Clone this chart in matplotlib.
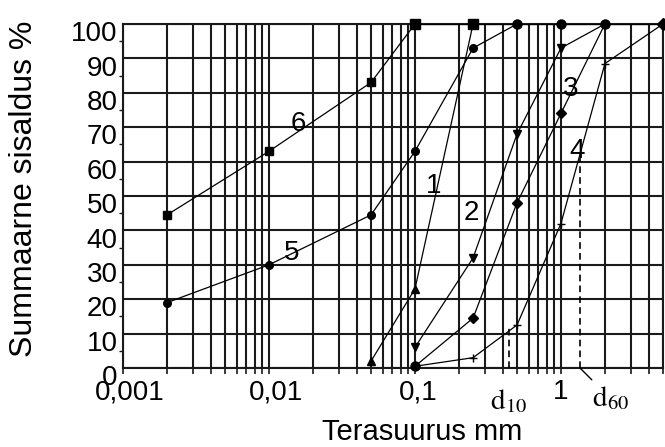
import matplotlib
matplotlib.use("Agg")
import matplotlib.pyplot as plt
import matplotlib.ticker as mticker
import matplotlib.transforms as mtrans
import numpy as np

plt.rcParams['font.family'] = ['Liberation Sans', 'DejaVu Sans']
plt.rcParams['mathtext.fontset'] = 'stix'

# grading curves (particle size mm, % passing)
x1 = [0.05, 0.1, 0.25]
y1 = [2, 23, 100]
x2 = [0.1, 0.25, 0.5, 1, 2]
y2 = [6, 32, 68, 93, 100]
x3 = [0.1, 0.25, 0.5, 1, 2]
y3 = [0.5, 14.5, 48, 74, 100]
x4 = [0.1, 0.25, 0.5, 1, 2, 5]
y4 = [0.5, 3, 12.5, 42, 88.5, 100]
x5 = [0.002, 0.01, 0.05, 0.1, 0.25, 0.5]
y5 = [19, 30, 44.5, 63, 93, 100]
x6 = [0.002, 0.01, 0.05, 0.1]
y6 = [44.5, 63, 83, 100]

# markers along the 100 % line
x_top = [0.1, 0.25, 0.5, 1, 2, 5]
m_top = ['s', 's', 'o', 'o', 'o', 'D']

# curve number labels (x, y, text)
lab_x = [0.135, 0.245, 1.17, 1.29, 0.0142, 0.0158]
lab_y = [53, 45, 81, 63, 33.5, 71]
lab_t = ['1', '2', '3', '4', '5', '6']

d10, d10_y = 0.44, 12
d60, d60_y = 1.35, 61

xticks = [0.001, 0.01, 0.1, 1]
xlabels = ['0,001', '0,01', '0,1', '1']
yticks = list(range(0, 101, 10))

W, H = 665, 447
fig = plt.figure(figsize=(W / 100, H / 100), dpi=100)
ax = fig.add_axes([123 / W, 1 - 368 / H, (663 - 123) / W, (368 - 24) / H])

ax.set_xscale('log')
ax.set_xlim(0.001, 5)
ax.set_ylim(0, 100)

gc = '#1a1a1a'
ax.xaxis.set_major_locator(mticker.FixedLocator(xticks))
ax.xaxis.set_minor_locator(mticker.LogLocator(base=10, subs=range(2, 10), numticks=20))
ax.xaxis.set_minor_formatter(mticker.NullFormatter())
ax.set_xticklabels(xlabels)
ax.set_yticks(yticks)
ax.yaxis.set_minor_locator(mticker.MultipleLocator(5))
ax.grid(True, which='major', axis='both', color=gc, lw=1.5)
ax.grid(True, which='minor', axis='x', color=gc, lw=1.5)
ax.set_axisbelow(True)
for s in ax.spines.values():
    s.set_color(gc)
    s.set_linewidth(1.5)

ax.tick_params(axis='x', which='both', direction='out', length=4, width=1.2,
               color=gc, labelsize=20, pad=4)
ax.tick_params(axis='y', which='major', length=0, labelsize=20, pad=4)
ax.tick_params(axis='y', which='minor', length=3, width=1, color=gc)
for lbl in ax.get_yticklabels():
    lbl.set_va('top')
    lbl.set_transform(lbl.get_transform() + mtrans.ScaledTranslation(0, 2 / 72, fig.dpi_scale_trans))
for lbl, dx in zip(ax.get_xticklabels(), [7, 7, 3, 0]):
    lbl.set_transform(lbl.get_transform() + mtrans.ScaledTranslation(dx / 100, 0, fig.dpi_scale_trans))

lk = dict(color='black', lw=0.9, ms=5.5, mfc='black', mec='black', zorder=3)
ax.plot(x1, y1, marker='^', markevery=[0, 1], **lk)
ax.plot(x2, y2, marker='v', markevery=[0, 1, 2, 3], **lk)
ax.plot(x3, y3, marker='D', markevery=[1, 2, 3], **dict(lk, ms=5))
ax.plot(x4, y4, marker='+', markevery=[1, 2, 3, 4], **lk)
ax.plot(x5, y5, marker='o', markevery=[0, 1, 2, 3, 4], **lk)
ax.plot(x6, y6, marker='s', markevery=[0, 1, 2], **lk)
ax.plot(x_top, [100] * len(x_top), color='black', lw=0.9, zorder=3)
for xt, mt in zip(x_top, m_top):
    ax.plot(xt, 100, marker=mt, ms=6.5, color='black', zorder=4, clip_on=False)
ax.plot(x3[0], y3[0], marker='o', ms=6.5, color='black', zorder=4, clip_on=False)

for xl, yl, tl in zip(lab_x, lab_y, lab_t):
    ax.text(xl, yl, tl, fontsize=20, ha='center', va='center', zorder=5)

ax.plot([d10, d10], [0, d10_y], color='black', lw=1.2, ls=(0, (4, 2.5)), zorder=3)
ax.plot([d60, d60], [0, d60_y], color='black', lw=1.2, ls=(0, (4, 2.5)), zorder=3)

tr = ax.get_xaxis_transform()
ax.text(d10, -0.055, r'$\mathrm{d}_{10}$', transform=tr, fontsize=21,
        ha='center', va='top', clip_on=False)
ax.annotate(r'$\mathrm{d}_{60}$', xy=(d60, 0), xytext=(22, -22),
            textcoords='offset points', fontsize=21, ha='center', va='center',
            arrowprops=dict(arrowstyle='-', lw=1, color='black', shrinkA=2, shrinkB=0),
            annotation_clip=False)

fig.text(24 / W, 1 - 189 / H, 'Summaarne sisaldus %', rotation=90,
         fontsize=23, ha='center', va='center')
fig.text(422 / W, 1 - 432 / H, 'Terasuurus mm', fontsize=21,
         ha='center', va='center')

fig.savefig('out.png', dpi=100)
